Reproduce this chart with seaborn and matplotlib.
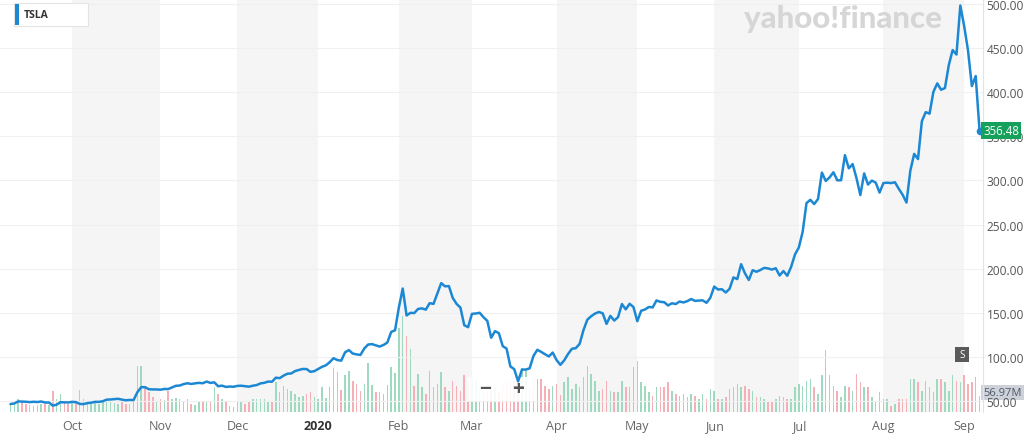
import numpy as np
import pandas as pd
import matplotlib
matplotlib.use("Agg")
import matplotlib.pyplot as plt
import seaborn as sns
from matplotlib.patches import Rectangle
from matplotlib.transforms import blended_transform_factory

# ---------------- data ----------------
start_date = "2019-09-09"
end_date = "2020-09-08"
market_holidays = ["2019-11-28", "2019-12-25", "2020-01-01", "2020-01-20", "2020-02-17",
                   "2020-04-10", "2020-05-25", "2020-07-03", "2020-09-07"]

close_2019_09 = [46.4, 47.1, 49.4, 49.2, 49.0, 48.6, 49.0, 48.7, 49.3, 48.1, 48.2, 44.6, 45.7, 48.5, 48.4, 48.2]
close_2019_10 = [48.9, 48.6, 46.6, 46.3, 47.5, 48.0, 48.9, 48.9, 49.6, 51.4, 51.6, 52.0, 52.4, 51.4, 50.7, 51.1,
                 50.9, 59.9, 65.6, 65.5, 63.2, 63.0, 63.0]
close_2019_11 = [62.7, 63.5, 63.4, 65.3, 67.1, 67.4, 69.0, 70.0, 69.2, 69.9, 70.4, 70.0, 71.9, 70.4, 71.0, 66.6,
                 67.3, 65.8, 66.3, 66.0]
close_2019_12 = [67.0, 67.2, 66.6, 66.1, 67.2, 67.9, 69.8, 70.5, 71.9, 71.7, 76.3, 75.8, 78.6, 80.8, 81.1, 83.8,
                 85.1, 86.2, 86.1, 82.9, 83.7]
close_2020_01 = [86.1, 88.6, 90.3, 93.8, 98.4, 96.3, 95.6, 105.0, 107.6, 103.7, 102.7, 102.1, 109.4, 113.9, 114.4,
                 113.0, 111.6, 113.4, 116.2, 128.2, 130.1]
close_2020_02 = [156.0, 177.4, 146.9, 149.8, 149.6, 154.3, 154.9, 153.5, 160.8, 160.0, 171.7, 183.5, 179.9, 180.2,
                 166.8, 160.0, 155.8, 135.8, 133.6]
close_2020_03 = [148.7, 149.1, 149.9, 144.9, 140.7, 121.6, 129.1, 126.8, 112.1, 109.3, 89.0, 86.0, 72.2, 85.5, 85.5,
                 86.9, 101.0, 107.9, 105.6, 102.9, 100.4, 104.8]
close_2020_04 = [96.3, 90.9, 96.0, 103.2, 109.1, 109.8, 114.6, 130.2, 142.0, 146.0, 149.0, 150.8, 149.3, 137.3,
                 146.4, 141.1, 145.0, 159.8, 153.8, 160.1, 156.4]
close_2020_05 = [140.3, 152.2, 153.6, 156.5, 156.0, 163.9, 162.3, 161.9, 158.2, 160.7, 159.8, 162.7, 161.6, 163.1,
                 165.5, 163.4, 163.8, 164.0, 161.2, 167.0]
close_2020_06 = [179.6, 176.3, 176.6, 172.9, 177.1, 190.0, 188.1, 205.0, 194.6, 187.1, 198.2, 196.4, 198.4, 200.8,
                 200.2, 198.9, 200.4, 192.2, 197.2, 191.9, 201.9, 216.0]
close_2020_07 = [223.9, 241.7, 274.3, 278.0, 273.2, 278.9, 308.9, 299.4, 303.4, 309.2, 300.1, 300.2, 328.6, 313.7,
                 318.5, 302.6, 283.4, 307.9, 295.3, 299.8, 297.5, 286.2]
close_2020_08 = [297.0, 297.4, 297.0, 297.9, 290.5, 283.7, 274.9, 311.0, 330.1, 324.2, 367.1, 377.4, 375.7, 400.4,
                 410.0, 402.8, 404.7, 430.6, 447.8, 442.7, 498.3]
close_2020_09 = [475.1, 447.4, 407.0, 418.3, 356.48]

# volume in millions of shares
vol_2019_09 = [30, 32, 45, 35, 28, 25, 22, 24, 30, 28, 26, 76, 45, 64, 33, 30]
vol_2019_10 = [35, 40, 80, 45, 38, 35, 32, 30, 38, 48, 36, 33, 30, 34, 30, 28, 42, 165, 165, 88, 70, 52, 40]
vol_2019_11 = [46, 42, 76, 46, 50, 46, 40, 46, 30, 26, 40, 36, 40, 40, 88, 64, 46, 40, 22, 17]
vol_2019_12 = [35, 35, 29, 40, 46, 46, 46, 46, 40, 35, 106, 70, 94, 82, 76, 64, 52, 58, 64, 70, 52]
vol_2020_01 = [47, 90, 50, 88, 155, 142, 80, 133, 145, 110, 100, 76, 100, 175, 95, 70, 70, 64, 95, 159, 140]
vol_2020_02 = [300, 340, 270, 224, 94, 136, 90, 64, 147, 88, 100, 141, 88, 76, 112, 94, 76, 130, 110]
vol_2020_03 = [125, 115, 80, 75, 70, 95, 90, 70, 95, 110, 110, 115, 120, 155, 150, 90, 118, 118, 118, 94, 82, 94]
vol_2020_04 = [100, 60, 106, 124, 82, 100, 88, 124, 165, 136, 112, 76, 82, 112, 76, 70, 70, 112, 88, 88, 160]
vol_2020_05 = [183, 106, 94, 70, 58, 88, 88, 88, 106, 76, 64, 58, 64, 52, 64, 58, 46, 64, 46, 82]
vol_2020_06 = [76, 46, 46, 52, 82, 88, 100, 88, 94, 82, 76, 52, 52, 46, 40, 35, 46, 58, 52, 46, 46, 88]
vol_2020_07 = [100, 94, 112, 118, 88, 64, 130, 219, 130, 94, 76, 52, 94, 88, 76, 136, 106, 88, 88, 52, 40, 70]
vol_2020_08 = [46, 46, 20, 29, 46, 46, 46, 118, 118, 106, 76, 112, 88, 70, 118, 118, 106, 76, 130, 112, 106]
vol_2020_09 = [130, 100, 106, 124, 56.97]

month_labels = ["Oct", "Nov", "Dec", "2020", "Feb", "Mar", "Apr", "May", "Jun", "Jul", "Aug", "Sep"]
price_ticks = [50, 100, 150, 200, 250, 300, 350, 400, 450, 500]
ticker = "TSLA"
last_price_label = "356.48"
last_volume_label = "56.97M"

# ---------------- assemble ----------------
closes = sum([close_2019_09, close_2019_10, close_2019_11, close_2019_12, close_2020_01, close_2020_02,
              close_2020_03, close_2020_04, close_2020_05, close_2020_06, close_2020_07, close_2020_08,
              close_2020_09], [])
vols = sum([vol_2019_09, vol_2019_10, vol_2019_11, vol_2019_12, vol_2020_01, vol_2020_02, vol_2020_03,
            vol_2020_04, vol_2020_05, vol_2020_06, vol_2020_07, vol_2020_08, vol_2020_09], [])

dates = pd.bdate_range(start_date, end_date)
dates = dates[~dates.isin(pd.to_datetime(market_holidays))]
n = min(len(dates), len(closes), len(vols))
df = pd.DataFrame({"date": dates[:n], "close": closes[:n], "vol": vols[:n]})
df["idx"] = np.arange(n)
prev = df["close"].shift(1).fillna(df["close"].iloc[0])
df["dir"] = np.where(df["close"] >= prev, "up", "down")

month_key = df["date"].dt.to_period("M")
month_starts = df.index[month_key != month_key.shift(1)].tolist()[1:]  # first trading day of each new month

# ---------------- figure ----------------
sns.set_theme(style="white")
plt.rcParams["font.family"] = ["Open Sans", "DejaVu Sans"]

W, H = 1024, 439
fig = plt.figure(figsize=(W / 100, H / 100), dpi=100)
fig.patch.set_facecolor("white")

ax_right_px, ax_bottom_px, ax_top_px = 983, 413, 0
ax_vol = fig.add_axes([0, (H - ax_bottom_px) / H, ax_right_px / W, (ax_bottom_px - ax_top_px) / H])
ax_vol.set_facecolor("white")

# month bands
bounds = month_starts + [n + 5]
for i in range(len(month_starts)):
    if i % 2 == 0:
        ax_vol.axvspan(bounds[i], bounds[i + 1], color="#f5f5f5", lw=0, zorder=0)

# volume bars
sns.barplot(data=df, x="idx", y="vol", hue="dir", palette={"up": "#9fdac0", "down": "#f4b0b6"},
            native_scale=True, dodge=False, width=0.4, errorbar=None, legend=False,
            saturation=1, linewidth=0, ax=ax_vol, zorder=1)

# price axis
ax_p = ax_vol.twinx()
for y in price_ticks:
    ax_p.axhline(y, color="#f0f0f0", lw=0.8, zorder=0)
sns.lineplot(x=df["idx"], y=df["close"], ax=ax_p, color="#1c88d4", linewidth=1.8, zorder=4)
ax_p.plot(df["idx"].iloc[-1], df["close"].iloc[-1], "o", color="#1c88d4", ms=4.5, zorder=5)

xlim = (-2.73, 252.9)
ax_vol.set_xlim(*xlim)
ax_vol.set_ylim(0, 413 * 3.56)
ax_p.set_ylim(37.4, 505.7)

for a in (ax_vol, ax_p):
    for s in a.spines.values():
        s.set_visible(False)
    a.set_xlabel("")
    a.set_ylabel("")
ax_p.spines["right"].set_visible(True)
ax_p.spines["right"].set_color("#e3e3e3")
ax_p.spines["right"].set_linewidth(0.8)

ax_vol.set_yticks([])
ax_vol.set_xticks(month_starts)
ax_vol.set_xticklabels(month_labels)
ax_vol.tick_params(axis="x", length=0, pad=5, labelsize=9, labelcolor="#666666")
for lab in ax_vol.get_xticklabels():
    if lab.get_text() == "2020":
        lab.set_fontweight("bold")
        lab.set_color("#333333")

ax_p.set_yticks(price_ticks)
ax_p.set_yticklabels([f"{v:.2f}" for v in price_ticks])
ax_p.tick_params(axis="y", length=0, pad=2.5, labelsize=8.6, labelcolor="#555555")

# last price & volume labels
trans = blended_transform_factory(ax_p.transAxes, ax_p.transData)
ax_p.text(1.0, df["close"].iloc[-1], last_price_label, transform=trans, ha="left", va="center",
          fontsize=8.3, color="white", zorder=10, clip_on=False,
          bbox=dict(boxstyle="square,pad=0.18", fc="#15a15c", ec="none"))
transv = blended_transform_factory(ax_vol.transAxes, ax_vol.transData)
ax_vol.text(1.0, df["vol"].iloc[-1] + 12, last_volume_label, transform=transv, ha="left", va="center",
            fontsize=8.0, color="#505a66", zorder=10, clip_on=False,
            bbox=dict(boxstyle="square,pad=0.18", fc="#cdd2da", ec="none"))

# zoom control box (-/+)
ax_vol.add_patch(Rectangle((467 / 983, (413 - 402) / 413), (535 - 467) / 983, 24 / 413,
                           transform=ax_vol.transAxes, fc="white", ec="none", alpha=0.9, zorder=3))
fig.text(485 / W, 1 - 390 / H, "\u2212", ha="center", va="center", fontsize=15, fontweight="bold", color="#555555")
fig.text(518 / W, 1 - 390 / H, "+", ha="center", va="center", fontsize=15, fontweight="bold", color="#555555")

# "S" marker box
fig.patches.append(Rectangle((955 / W, 1 - 363 / H), 14 / W, 15 / H, transform=fig.transFigure,
                             fc="#5a5a5a", ec="none", zorder=10))
fig.text(962 / W, 1 - 355.5 / H, "S", ha="center", va="center", fontsize=7, color="white", zorder=11)

# legend chip
fig.patches.append(Rectangle((14 / W, 1 - 27 / H), 74 / W, 23 / H, transform=fig.transFigure,
                             fc="white", ec="#e4e4e4", lw=0.8, zorder=10))
fig.patches.append(Rectangle((15 / W, 1 - 26 / H), 3.5 / W, 21 / H, transform=fig.transFigure,
                             fc="#1c88d4", ec="none", zorder=11))
fig.text(24 / W, 1 - 15.5 / H, ticker, ha="left", va="center", fontsize=7.5, fontweight="bold",
         color="#333333", zorder=12)

# watermark
fig.text(843 / W, 1 - 19 / H, "yahoo!finance", ha="center", va="center", fontsize=22.5,
         fontweight="black", color="#d6d6d6", family=["Lato", "DejaVu Sans"], zorder=1)

fig.savefig("out.png", dpi=100, facecolor="white")
